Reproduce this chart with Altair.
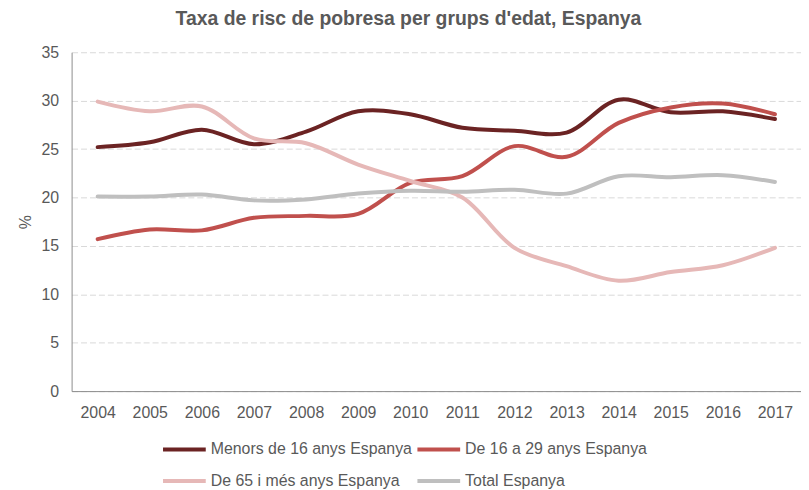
import altair as alt
import pandas as pd

years = [2004, 2005, 2006, 2007, 2008, 2009, 2010, 2011, 2012, 2013, 2014, 2015, 2016, 2017]
menors_16 = [25.2, 25.7, 27.0, 25.5, 26.8, 28.9, 28.6, 27.2, 26.9, 26.7, 30.1, 28.8, 28.9, 28.1]
de_16_29 = [15.7, 16.7, 16.6, 17.9, 18.1, 18.3, 21.5, 22.2, 25.3, 24.2, 27.7, 29.3, 29.7, 28.6]
de_65 = [29.9, 28.9, 29.4, 26.1, 25.6, 23.4, 21.7, 20.0, 14.8, 12.9, 11.4, 12.3, 13.0, 14.8]
total = [20.1, 20.1, 20.3, 19.7, 19.8, 20.4, 20.7, 20.6, 20.8, 20.4, 22.2, 22.1, 22.3, 21.6]

series_names = ["Menors de 16 anys Espanya", "De 16 a 29 anys Espanya",
                "De 65 i més anys Espanya", "Total Espanya"]
series_colors = ["#6B2323", "#C0504D", "#E6B8B7", "#BFBFBF"]
y_ticks = [0, 5, 10, 15, 20, 25, 30, 35]

rows = []
for name, vals in zip(series_names, [menors_16, de_16_29, de_65, total]):
    for yr, v in zip(years, vals):
        rows.append({"year": str(yr), "serie": name, "value": v})
df = pd.DataFrame(rows)

FONT = "Liberation Sans"
TXT = "#595959"

chart = alt.Chart(df).mark_line(
    interpolate="catmull-rom", strokeWidth=4, strokeCap="round"
).encode(
    x=alt.X("year:O", sort=[str(y) for y in years],
            scale=alt.Scale(type="point", padding=0.5),
            axis=alt.Axis(title=None, labelAngle=0, ticks=False, tickSize=0,
                          labelPadding=14, domainColor="#8C8C8C", grid=False,
                          labelFontSize=16, labelColor=TXT, labelFont=FONT)),
    y=alt.Y("value:Q", scale=alt.Scale(domain=[0, 35], nice=False),
            axis=alt.Axis(title="%", values=y_ticks, ticks=False, tickSize=0,
                          labelPadding=13, domainColor="#8C8C8C",
                          grid=True, gridColor="#D9D9D9", gridDash=[6, 3],
                          labelFontSize=16, labelColor=TXT, labelFont=FONT,
                          titleFontSize=16, titleColor=TXT, titleFont=FONT,
                          titleFontWeight="normal", titlePadding=8)),
    color=alt.Color("serie:N", scale=alt.Scale(domain=series_names, range=series_colors),
                    legend=alt.Legend(title=None, orient="none", legendX=90, legendY=376,
                                      direction="horizontal",
                                      columns=2, columnPadding=-3, rowPadding=-12,
                                      symbolType="stroke", symbolSize=1849,
                                      symbolStrokeWidth=4, labelOffset=3, labelLimit=0,
                                      labelFontSize=16, labelColor=TXT, labelFont=FONT,
                                      padding=0)),
).properties(
    width=734, height=341,
    title=alt.Title("Taxa de risc de pobresa per grups d'edat, Espanya",
                    fontSize=19.5, font=FONT, fontWeight="bold", color=TXT,
                    anchor="middle", dx=-28, offset=15),
    autosize=alt.AutoSizeParams(type="none"),
    padding={"left": 64, "top": 43, "right": 0, "bottom": 100},
).configure_view(stroke=None)

chart.save("out.html", embed_options={"renderer": "svg", "actions": False})
